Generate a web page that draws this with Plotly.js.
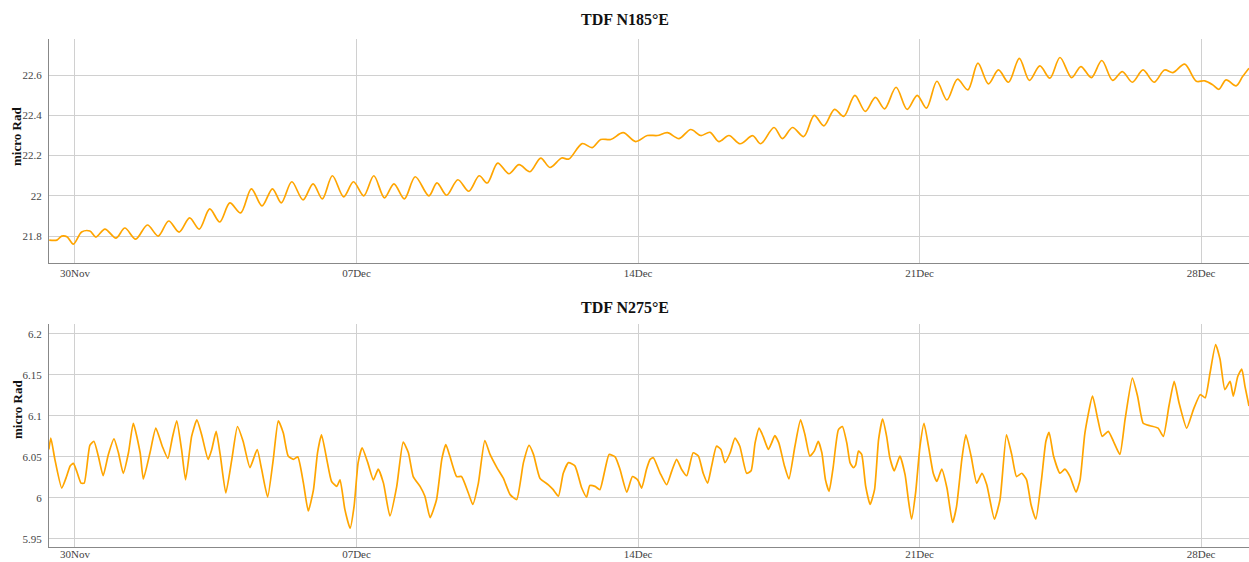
<!DOCTYPE html>
<html>
<head>
<meta charset="utf-8">
<script src="https://cdn.plot.ly/plotly-3.0.1.min.js"></script>
<style>html,body{margin:0;padding:0;background:#fff;}#chart{width:1249px;height:562px;}</style>
</head>
<body>
<div id="chart"></div>
<script>
// Time offsets are in days since 30 Nov 00:00 (UTC)
const BASE_DAY = Date.UTC(2020, 10, 30);
const titleTop = "TDF N185°E";
const titleBottom = "TDF N275°E";
const yAxisLabel = "micro Rad";

const daysN185 = [-0.64,-0.45,-0.33,-0.2,-0.04,0.165,0.37,0.52,0.745,1.02,1.24,1.51,1.80,2.07,2.33,2.59,2.85,3.09,3.35,3.60,3.85,4.12,4.385,4.65,4.91,5.13,5.39,5.67,5.92,6.15,6.40,6.68,6.925,7.18,7.43,7.695,7.93,8.19,8.46,8.80,9.00,9.24,9.52,9.79,10.05,10.25,10.51,10.79,11.04,11.31,11.58,11.81,12.10,12.28,12.61,12.86,13.07,13.32,13.63,13.94,14.23,14.48,14.73,15.02,15.31,15.56,15.79,16.01,16.26,16.54,16.85,17.05,17.38,17.59,17.84,18.12,18.38,18.62,18.885,19.115,19.39,19.65,19.90,20.13,20.415,20.69,20.94,21.17,21.43,21.68,21.94,22.20,22.45,22.71,22.96,23.21,23.48,23.73,23.99,24.24,24.49,24.78,25.01,25.27,25.53,25.80,26.04,26.29,26.555,26.83,27.09,27.30,27.59,27.88,28.09,28.29,28.44,28.62,28.87,29.03,29.19];
const valsN185 = [21.78,21.78,21.80,21.797,21.76,21.82,21.825,21.795,21.835,21.79,21.84,21.785,21.855,21.80,21.875,21.82,21.89,21.835,21.935,21.87,21.965,21.915,22.035,21.95,22.035,21.965,22.07,21.98,22.06,21.985,22.10,21.995,22.07,22.0,22.10,21.99,22.06,21.985,22.095,22.0,22.065,22.003,22.08,22.023,22.10,22.064,22.163,22.11,22.155,22.12,22.188,22.141,22.188,22.183,22.26,22.24,22.28,22.28,22.314,22.27,22.30,22.30,22.314,22.285,22.33,22.30,22.316,22.27,22.30,22.259,22.299,22.259,22.34,22.285,22.34,22.295,22.40,22.348,22.43,22.395,22.50,22.42,22.49,22.433,22.54,22.43,22.50,22.436,22.57,22.477,22.58,22.527,22.66,22.557,22.626,22.565,22.684,22.574,22.646,22.585,22.688,22.588,22.643,22.588,22.673,22.574,22.618,22.565,22.626,22.565,22.626,22.613,22.655,22.57,22.572,22.552,22.53,22.577,22.547,22.593,22.635];

const daysN275 = [-0.65,-0.60,-0.50,-0.33,-0.21,-0.12,-0.04,0.04,0.15,0.23,0.37,0.47,0.58,0.70,0.83,0.97,1.08,1.20,1.33,1.45,1.62,1.70,1.865,2.01,2.17,2.31,2.42,2.53,2.65,2.75,2.90,3.03,3.15,3.31,3.40,3.51,3.61,3.75,3.90,4.04,4.18,4.35,4.53,4.64,4.79,4.93,5.055,5.18,5.30,5.43,5.54,5.68,5.80,5.93,6.03,6.13,6.26,6.38,6.51,6.59,6.71,6.84,6.94,7.04,7.14,7.28,7.42,7.54,7.67,7.83,8.00,8.16,8.29,8.41,8.58,8.70,8.83,8.99,9.12,9.22,9.32,9.49,9.61,9.78,9.89,10.03,10.19,10.32,10.49,10.65,10.82,10.98,11.15,11.29,11.40,11.56,11.77,11.89,12.02,12.14,12.27,12.43,12.60,12.72,12.80,12.93,13.05,13.18,13.28,13.43,13.55,13.72,13.86,13.99,14.09,14.21,14.30,14.38,14.55,14.71,14.84,14.96,15.08,15.21,15.37,15.50,15.62,15.73,15.83,15.95,16.06,16.16,16.29,16.41,16.53,16.70,16.81,16.91,17.01,17.11,17.24,17.32,17.40,17.50,17.64,17.75,17.90,18.04,18.15,18.27,18.38,18.48,18.57,18.66,18.75,18.85,18.98,19.08,19.19,19.27,19.35,19.41,19.48,19.56,19.66,19.77,19.88,19.98,20.08,20.18,20.26,20.37,20.51,20.64,20.72,20.80,20.90,21.01,21.11,21.22,21.34,21.43,21.55,21.68,21.82,21.92,22.05,22.15,22.28,22.42,22.55,22.67,22.86,23.00,23.16,23.29,23.41,23.54,23.66,23.77,23.89,24.03,24.14,24.22,24.33,24.49,24.61,24.74,24.89,24.99,25.11,25.30,25.43,25.54,25.69,25.82,25.98,26.11,26.29,26.42,26.56,26.73,26.93,27.06,27.20,27.33,27.45,27.64,27.81,27.98,28.10,28.22,28.36,28.47,28.59,28.72,28.80,28.91,29.01,29.09,29.19];
const valsN275 = [6.059,6.073,6.047,6.012,6.026,6.039,6.042,6.033,6.018,6.018,6.064,6.069,6.051,6.027,6.053,6.072,6.055,6.030,6.055,6.091,6.055,6.023,6.055,6.085,6.063,6.048,6.073,6.094,6.059,6.022,6.075,6.095,6.077,6.047,6.059,6.081,6.053,6.006,6.047,6.087,6.069,6.037,6.059,6.035,6.001,6.047,6.094,6.079,6.051,6.047,6.05,6.018,5.984,6.01,6.055,6.077,6.047,6.02,6.014,6.022,5.986,5.963,5.99,6.043,6.061,6.043,6.022,6.035,6.018,5.978,6.014,6.068,6.055,6.026,6.014,6.002,5.976,5.998,6.047,6.065,6.051,6.026,6.026,6.006,5.992,6.018,6.07,6.053,6.037,6.024,6.004,5.998,6.043,6.064,6.053,6.024,6.016,6.01,6.002,6.03,6.043,6.039,6.012,6.001,6.015,6.014,6.01,6.035,6.053,6.05,6.035,6.007,6.026,6.022,6.012,6.035,6.047,6.049,6.03,6.016,6.033,6.047,6.035,6.027,6.055,6.051,6.03,6.018,6.039,6.063,6.059,6.043,6.055,6.073,6.063,6.03,6.033,6.067,6.085,6.075,6.059,6.067,6.076,6.067,6.039,6.023,6.063,6.095,6.077,6.051,6.057,6.069,6.055,6.022,6.008,6.037,6.083,6.087,6.067,6.043,6.037,6.04,6.057,6.053,6.014,5.992,6.01,6.071,6.096,6.075,6.049,6.033,6.051,6.028,5.998,5.974,6.006,6.063,6.091,6.063,6.03,6.02,6.035,6.012,5.97,5.99,6.047,6.077,6.051,6.018,6.03,6.016,5.974,5.998,6.077,6.053,6.026,6.03,6.022,5.992,5.974,6.022,6.069,6.08,6.051,6.03,6.035,6.026,6.007,6.022,6.079,6.124,6.096,6.075,6.081,6.069,6.053,6.096,6.146,6.124,6.091,6.088,6.085,6.075,6.112,6.142,6.116,6.085,6.108,6.126,6.122,6.152,6.187,6.169,6.132,6.142,6.124,6.148,6.157,6.136,6.112];

const xRangeDays = [-0.646, 29.19];
const tickStepDays = 7;

const toMs = d => BASE_DAY + d * 86400000;
const serif = "Liberation Serif, Times New Roman, serif";

const traceTop = {
  x: daysN185.map(toMs), y: valsN185, xaxis: 'x', yaxis: 'y',
  type: 'scatter', mode: 'lines',
  line: {color: '#FFA500', width: 1.7, shape: 'spline', smoothing: 0.9},
  hoverinfo: 'x+y'
};
const traceBottom = {
  x: daysN275.map(toMs), y: valsN275, xaxis: 'x2', yaxis: 'y2',
  type: 'scatter', mode: 'lines',
  line: {color: '#FFA500', width: 1.7, shape: 'spline', smoothing: 0.5},
  hoverinfo: 'x+y'
};

const xCommon = {
  type: 'date',
  range: xRangeDays.map(toMs),
  tick0: BASE_DAY,
  dtick: tickStepDays * 86400000,
  tickformat: '%d%b',
  showgrid: true, gridcolor: '#d0d0d0', gridwidth: 1,
  showline: true, linecolor: '#888', linewidth: 1,
  ticks: '', zeroline: false,
  tickfont: {family: serif, size: 11, color: '#444'},
  automargin: false
};
const yCommon = {
  showgrid: true, gridcolor: '#d0d0d0', gridwidth: 1,
  showline: true, linecolor: '#888', linewidth: 1,
  ticks: 'outside', ticklen: 4, tickcolor: 'rgba(0,0,0,0)',
  zeroline: false,
  tickfont: {family: serif, size: 11, color: '#444'},
  automargin: false
};

const yTitleX = -32 / 1200;
const layout = {
  width: 1249, height: 562,
  margin: {l: 49, r: 0, t: 0, b: 0},
  paper_bgcolor: '#fff', plot_bgcolor: '#fff',
  showlegend: false,
  xaxis: Object.assign({}, xCommon, {domain: [0, 1], anchor: 'y'}),
  yaxis: Object.assign({}, yCommon, {domain: [0.532, 0.9306], anchor: 'x', range: [21.666, 22.78], dtick: 0.2, tick0: 21.8}),
  xaxis2: Object.assign({}, xCommon, {domain: [0, 1], anchor: 'y2', ticklabelstandoff: -3}),
  yaxis2: Object.assign({}, yCommon, {domain: [0.0265, 0.4235], anchor: 'x2', range: [5.940, 6.212], dtick: 0.05, tick0: 5.95}),
  annotations: [
    {text: '<b>' + titleTop + '</b>', xref: 'paper', yref: 'paper', x: 0.48, y: 1 - 20/562, xanchor: 'center', yanchor: 'middle', showarrow: false, font: {family: serif, size: 16, color: '#111'}},
    {text: '<b>' + titleBottom + '</b>', xref: 'paper', yref: 'paper', x: 0.48, y: 1 - 307/562, xanchor: 'center', yanchor: 'middle', showarrow: false, font: {family: serif, size: 16, color: '#111'}},
    {text: '<b>' + yAxisLabel + '</b>', xref: 'paper', yref: 'paper', x: yTitleX, y: 1 - 137/562, xanchor: 'center', yanchor: 'middle', textangle: -90, showarrow: false, font: {family: serif, size: 13, color: '#111'}},
    {text: '<b>' + yAxisLabel + '</b>', xref: 'paper', yref: 'paper', x: yTitleX, y: 1 - 410/562, xanchor: 'center', yanchor: 'middle', textangle: -90, showarrow: false, font: {family: serif, size: 13, color: '#111'}}
  ]
};

Plotly.newPlot('chart', [traceTop, traceBottom], layout, {displayModeBar: false, staticPlot: true});
</script>
</body>
</html>
